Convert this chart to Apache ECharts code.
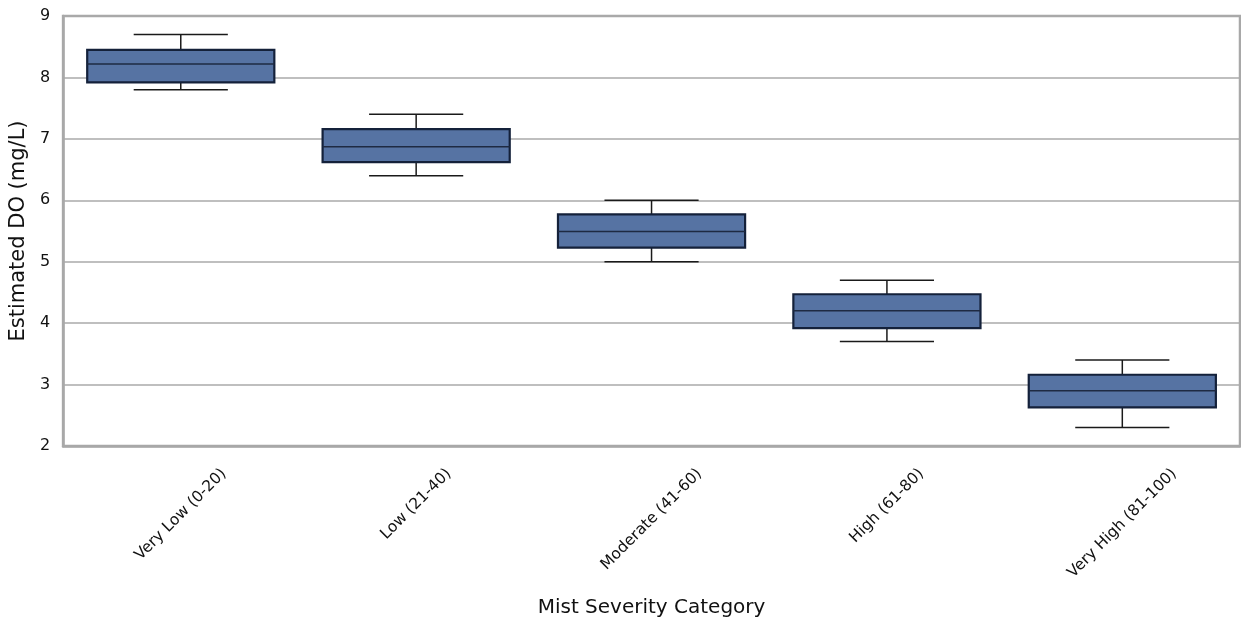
<!DOCTYPE html>
<html><head><meta charset="utf-8">
<script src="https://cdn.jsdelivr.net/npm/echarts@6/dist/echarts.min.js"></script>
<style>html,body{margin:0;padding:0;background:#fff}#c{width:1241px;height:623px}</style>
</head><body><div id="c"></div>
<script>
const categories = ['Very Low (0-20)', 'Low (21-40)', 'Moderate (41-60)', 'High (61-80)', 'Very High (81-100)'];
const whiskerLow  = [7.8, 6.4, 5.0, 3.7, 2.3];
const q1          = [7.92, 6.62, 5.23, 3.92, 2.63];
const median      = [8.22, 6.87, 5.49, 4.2, 2.9];
const q3          = [8.45, 7.16, 5.77, 4.47, 3.16];
const whiskerHigh = [8.7, 7.4, 6.0, 4.7, 3.4];
const yTicks = [2, 3, 4, 5, 6, 7, 8, 9];

const FONT = '"DejaVu Sans", sans-serif';
const LABEL_SIZE = 15.5;
const mctx = document.createElement('canvas').getContext('2d');
mctx.font = LABEL_SIZE + 'px ' + FONT;

const chart = echarts.init(document.getElementById('c'), null, {renderer: 'canvas'});
const data = categories.map((c, i) => [i, whiskerLow[i], q1[i], median[i], q3[i], whiskerHigh[i]]);

function renderItem(params, api) {
  const i = api.value(0);
  const band = api.size([1, 0])[0];
  const cx = api.coord([i, yTicks[0]])[0];
  const yAxisPix = api.coord([i, yTicks[0]])[1];
  const bw = band * 0.795, cw = band * 0.40;
  const yLo = api.coord([i, api.value(1)])[1];
  const yQ1 = api.coord([i, api.value(2)])[1];
  const yMed = api.coord([i, api.value(3)])[1];
  const yQ3 = api.coord([i, api.value(4)])[1];
  const yHi = api.coord([i, api.value(5)])[1];
  const wStyle = {stroke: '#1a1a1a', lineWidth: 1.5};
  const text = categories[i];
  const w = mctx.measureText(text).width;
  const half = (w + LABEL_SIZE * 0.8) * Math.SQRT1_2 / 2;
  return {
    type: 'group',
    children: [
      {type: 'line', shape: {x1: cx, y1: yHi, x2: cx, y2: yQ3}, style: wStyle},
      {type: 'line', shape: {x1: cx, y1: yQ1, x2: cx, y2: yLo}, style: wStyle},
      {type: 'line', shape: {x1: cx - cw / 2, y1: yHi, x2: cx + cw / 2, y2: yHi}, style: wStyle},
      {type: 'line', shape: {x1: cx - cw / 2, y1: yLo, x2: cx + cw / 2, y2: yLo}, style: wStyle},
      {type: 'rect', shape: {x: cx - bw / 2, y: yQ3, width: bw, height: yQ1 - yQ3},
        style: {fill: '#5673a3', stroke: '#14213a', lineWidth: 2.2}},
      {type: 'line', shape: {x1: cx - bw / 2, y1: yMed, x2: cx + bw / 2, y2: yMed},
        style: {stroke: '#1e2a42', lineWidth: 1.5}},
      {type: 'text', x: cx, y: yAxisPix + 21 + half, rotation: Math.PI / 4,
        style: {text: text, align: 'center', verticalAlign: 'middle', font: LABEL_SIZE + 'px ' + FONT, fill: '#111'}}
    ]
  };
}

chart.setOption({
  animation: false,
  textStyle: {fontFamily: FONT},
  grid: {left: 63, right: 1, top: 16, bottom: 174, show: true, borderColor: '#a8a8a8', borderWidth: 2.5, containLabel: false},
  xAxis: {
    type: 'category', data: categories, boundaryGap: true,
    axisLine: {show: true, lineStyle: {color: '#a8a8a8', width: 2.5}},
    axisTick: {show: false}, axisLabel: {show: false},
    name: 'Mist Severity Category', nameLocation: 'middle', nameGap: 152,
    nameTextStyle: {fontSize: 20, color: '#111', fontFamily: FONT}
  },
  yAxis: {
    type: 'value', min: yTicks[0], max: yTicks[yTicks.length - 1], interval: 1,
    axisLine: {show: true, lineStyle: {color: '#a8a8a8', width: 2.5}},
    axisTick: {show: false},
    axisLabel: {fontSize: 16, color: '#111', margin: 13, fontFamily: FONT},
    splitLine: {show: true, lineStyle: {color: '#aaaaaa', width: 1.5}},
    name: 'Estimated DO (mg/L)', nameLocation: 'middle', nameGap: 23,
    nameTextStyle: {fontSize: 21, color: '#111', fontFamily: FONT}
  },
  series: [{type: 'custom', renderItem: renderItem, data: data, clip: false, z: 3}]
});
</script></body></html>
